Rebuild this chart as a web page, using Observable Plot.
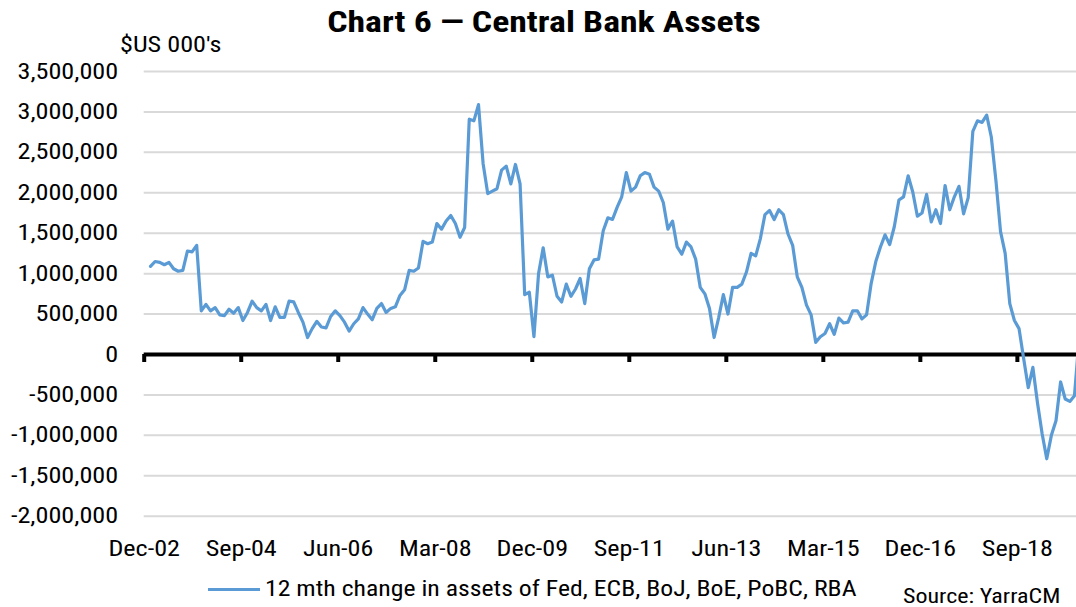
<!DOCTYPE html>
<html>
<head>
<meta charset="utf-8">
<script src="https://cdn.jsdelivr.net/npm/d3@7"></script>
<script src="https://cdn.jsdelivr.net/npm/@observablehq/plot@0.6"></script>
<style>
  html, body { margin: 0; padding: 0; background: #fff; }
  #wrap { position: relative; width: 1076px; height: 607px; overflow: hidden;
    font-family: "Roboto Condensed", "Liberation Sans Narrow", "DejaVu Sans Condensed", Roboto, sans-serif; color: #000; }
  #title { position: absolute; top: 2px; left: 6px; width: 1076px; text-align: center; font-weight: bold; font-size: 30px; line-height: 40px;
    transform: scaleX(1.19); transform-origin: 538px 0; }
  #unit { position: absolute; top: 31px; left: 120px; font-size: 22px; line-height: 28px; transform: scaleX(1.19); transform-origin: 0 0; }
  #chart { position: absolute; top: 0; left: 0; }
  #legend { position: absolute; top: 575px; left: 208px; font-size: 22px; line-height: 28px; display: flex; align-items: center; }
  #legend .sw { width: 52px; height: 3px; background: #5B9BD5; margin-right: 5px; }
  #legtext { display: inline-block; transform: scaleX(1.17); transform-origin: 0 0; white-space: nowrap; }
  #source { position: absolute; top: 583px; left: 903px; font-size: 20px; line-height: 26px; transform: scaleX(1.2); transform-origin: 0 0; white-space: nowrap; }
</style>
</head>
<body>
<div id="wrap">
  <div id="title">Chart 6 — Central Bank Assets</div>
  <div id="unit">$US 000's</div>
  <div id="chart"></div>
  <div id="legend"><span class="sw"></span><span id="legtext"></span></div>
  <div id="source">Source: YarraCM</div>
</div>
<script>
// Series: 12 mth change in assets of Fed, ECB, BoJ, BoE, PoBC, RBA ($US 000's), monthly
const seriesName = "12 mth change in assets of Fed, ECB, BoJ, BoE, PoBC, RBA";
const values = [
  1090000, 1150000, 1140000, 1110000, 1140000, 1060000, 1030000, 1040000, 1280000, 1270000,
  1350000, 540000, 620000, 540000, 580000, 490000, 480000, 560000, 510000, 580000,
  420000, 520000, 660000, 580000, 540000, 620000, 420000, 590000, 460000, 460000,
  660000, 650000, 520000, 400000, 210000, 320000, 410000, 340000, 330000, 470000,
  540000, 480000, 400000, 290000, 380000, 440000, 580000, 500000, 430000, 570000,
  630000, 520000, 570000, 590000, 730000, 800000, 1040000, 1030000, 1070000, 1400000,
  1370000, 1390000, 1620000, 1550000, 1650000, 1720000, 1620000, 1450000, 1570000, 2910000,
  2890000, 3090000, 2360000, 1990000, 2020000, 2050000, 2280000, 2330000, 2110000, 2350000,
  2110000, 740000, 770000, 220000, 1000000, 1320000, 960000, 980000, 720000, 650000,
  870000, 720000, 810000, 940000, 630000, 1060000, 1170000, 1180000, 1530000, 1690000,
  1670000, 1820000, 1950000, 2250000, 2020000, 2070000, 2210000, 2250000, 2230000, 2070000,
  2020000, 1880000, 1550000, 1650000, 1330000, 1240000, 1390000, 1330000, 1180000, 830000,
  750000, 570000, 210000, 460000, 740000, 500000, 830000, 830000, 870000, 1020000,
  1250000, 1220000, 1430000, 1730000, 1780000, 1670000, 1790000, 1730000, 1490000, 1350000,
  960000, 830000, 610000, 490000, 150000, 220000, 260000, 380000, 250000, 450000,
  390000, 400000, 540000, 540000, 440000, 490000, 880000, 1150000, 1330000, 1480000,
  1360000, 1580000, 1910000, 1950000, 2210000, 2010000, 1710000, 1750000, 1980000, 1640000,
  1790000, 1620000, 2090000, 1790000, 1950000, 2080000, 1740000, 1940000, 2760000, 2890000,
  2870000, 2960000, 2690000, 2150000, 1520000, 1250000, 630000, 420000, 320000, -50000,
  -410000, -160000, -600000, -980000, -1290000, -1000000, -820000, -340000, -550000, -580000,
  -510000, 200000
];
// X tick labels (every 21 months from Dec-02)
const tickLabels = ["Dec-02", "Sep-04", "Jun-06", "Mar-08", "Dec-09", "Sep-11", "Jun-13", "Mar-15", "Dec-16", "Sep-18"];
const tickStep = 21;
// Y ticks
const yTicks = [-2000000, -1500000, -1000000, -500000, 0, 500000, 1000000, 1500000, 2000000, 2500000, 3000000, 3500000];

const firstOffset = 1.36; // months after the Dec-02 tick where the first observation sits
const data = values.map((v, i) => ({m: i + firstOffset, v}));
const xTicks = tickLabels.map((_, i) => i * tickStep);

const fmt = d3.formatLocale({decimal: ".", thousands: ",", grouping: [3], currency: ["$", ""], minus: "-"}).format(",");
const font = '"Roboto Condensed", "Liberation Sans Narrow", "DejaVu Sans Condensed", Roboto, sans-serif';

document.getElementById("legtext").textContent = seriesName;

const chart = Plot.plot({
  width: 1076,
  height: 570,
  marginLeft: 143.7,
  marginRight: 0,
  marginTop: 71,
  marginBottom: 54.3,
  style: {fontSize: "22px", fontFamily: font, color: "#000", background: "transparent", overflow: "visible"},
  x: {domain: [0, 201.8], ticks: xTicks, tickFormat: d => tickLabels[Math.round(d / tickStep)], tickSize: 0, tickPadding: 24, label: null},
  y: {domain: [-2000000, 3500000], ticks: yTicks, tickFormat: fmt, tickSize: 0, tickPadding: 26, label: null},
  marks: [
    Plot.ruleY(yTicks, {stroke: "#d9d9d9", strokeWidth: 2}),
    Plot.ruleY([0], {stroke: "#000", strokeWidth: 4}),
    Plot.ruleX(xTicks, {x: d => d, y1: 0, y2: 0, insetBottom: -8, stroke: "#000", strokeWidth: 4}),
    Plot.line(data, {x: "m", y: "v", stroke: "#5B9BD5", strokeWidth: 3.2, clip: true})
  ]
});
// widen axis text horizontally around its anchor, to match the reference's wide condensed type
const sx = 1.19;
chart.querySelectorAll("text").forEach(t => {
  const x = parseFloat(t.getAttribute("x"));
  if (!isNaN(x)) t.setAttribute("x", x / sx);
  const tr = t.getAttribute("transform") || "";
  t.setAttribute("transform", (tr + ` scale(${sx},1)`).trim());
});
document.getElementById("chart").appendChild(chart);
</script>
</body>
</html>
